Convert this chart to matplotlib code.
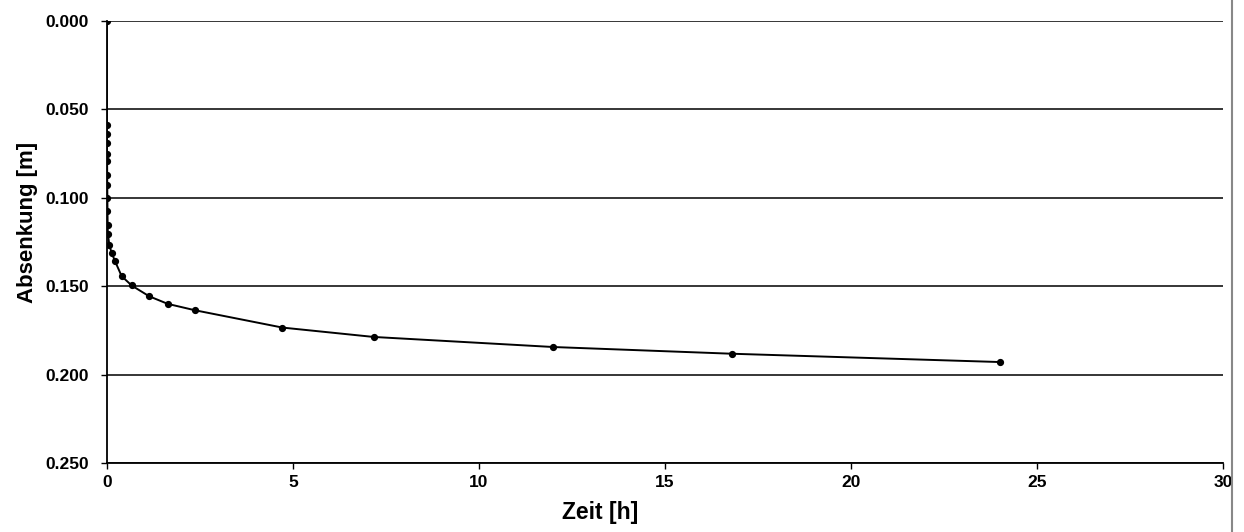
import matplotlib
matplotlib.use("Agg")
import matplotlib.pyplot as plt
from matplotlib.lines import Line2D

# Zeit [h] und Absenkung [m]
zeit = [0, 0.002, 0.004, 0.006, 0.008, 0.010, 0.012, 0.014, 0.017, 0.02,
        0.025, 0.03, 0.07, 0.13, 0.22, 0.40, 0.67, 1.14, 1.64, 2.37,
        4.72, 7.17, 12.0, 16.8, 24.0]
absenkung = [0.000, 0.059, 0.064, 0.069, 0.075, 0.079, 0.087, 0.093, 0.100, 0.1073,
             0.1155, 0.1202, 0.1268, 0.1310, 0.1357, 0.1443, 0.1496, 0.1557, 0.1600, 0.1636,
             0.1734, 0.1787, 0.1844, 0.1882, 0.1929]

x_ticks = [0, 5, 10, 15, 20, 25, 30]
y_ticks = [0.000, 0.050, 0.100, 0.150, 0.200, 0.250]

plt.rcParams['font.family'] = ['Liberation Sans', 'DejaVu Sans']
plt.rcParams['font.weight'] = 'bold'

fig = plt.figure(figsize=(12.44, 5.32), dpi=100)
ax = fig.add_axes([0.0858, 0.1297, 0.8977, 0.8308])

ax.plot(zeit, absenkung, color='black', linewidth=1.4, marker='o',
        markersize=4.2, markerfacecolor='black', markeredgecolor='black', zorder=3)

ax.set_xlim(0, 30)
ax.set_ylim(0.25, 0.0)
ax.set_xticks(x_ticks)
ax.set_xticklabels([str(v) for v in x_ticks])
ax.set_yticks(y_ticks)
ax.set_yticklabels([f'{v:.3f}' for v in y_ticks])

ax.grid(axis='y', color='black', linewidth=1.1)
ax.set_axisbelow(True)
for side in ['top', 'right']:
    ax.spines[side].set_visible(False)
for side in ['left', 'bottom']:
    ax.spines[side].set_linewidth(1.3)
    ax.spines[side].set_color('black')

ax.tick_params(axis='both', direction='out', length=4, width=1, labelsize=12.5)
ax.tick_params(axis='y', pad=9)
ax.tick_params(axis='x', pad=5)

ax.set_xlabel('Zeit [h]', fontsize=16.5, fontweight='bold')
ax.set_ylabel('Absenkung [m]', fontsize=16, fontweight='bold')
# Beschriftungen sitzen im Original nicht mittig
ax.xaxis.set_label_coords(600 / 1244, 1 - 512 / 532, transform=fig.transFigure)
ax.xaxis.label.set_va('center')
ax.yaxis.set_label_coords(28 / 1244, 1 - 222 / 532, transform=fig.transFigure)
ax.yaxis.label.set_va('center')

# senkrechter Rand vom Scan
fig.add_artist(Line2D([1232 / 1244, 1232 / 1244], [0, 1], transform=fig.transFigure,
                      color='#888888', linewidth=1.5))

fig.savefig('out.png', dpi=100, facecolor='white')
